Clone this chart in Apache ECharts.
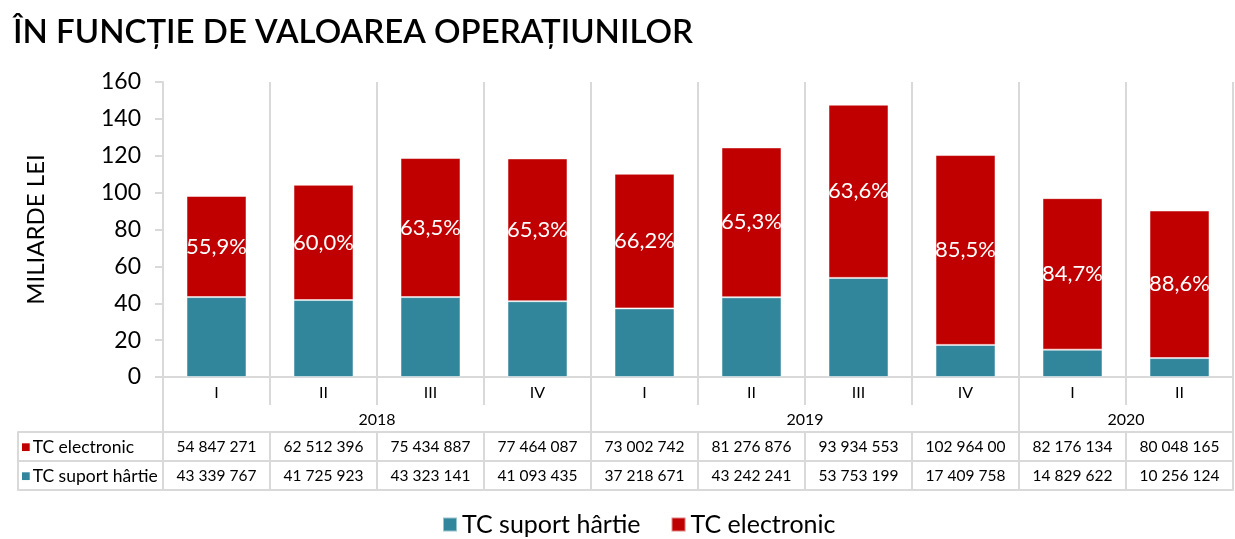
<!DOCTYPE html>
<html>
<head>
<meta charset="utf-8">
<script src="https://cdn.jsdelivr.net/npm/echarts@6/dist/echarts.min.js"></script>
<style>
  html, body { margin: 0; padding: 0; background: #fff; }
  #main { width: 1235px; height: 539px; }
</style>
</head>
<body>
<div id="main"></div>
<script>
// categorii
var quarters = ['I', 'II', 'III', 'IV', 'I', 'II', 'III', 'IV', 'I', 'II'];
var years = ['2018', '2019', '2020'];
var yearSpans = [4, 4, 2];

// valori, mii lei
var electronic = [54847271, 62512396, 75434887, 77464087, 73002742, 81276876, 93934553, 102964000, 82176134, 80048165];
var paper = [43339767, 41725923, 43323141, 41093435, 37218671, 43242241, 53753199, 17409758, 14829622, 10256124];

// texte din tabel
var electronicText = ['54 847 271', '62 512 396', '75 434 887', '77 464 087', '73 002 742', '81 276 876', '93 934 553', '102 964 00', '82 176 134', '80 048 165'];
var paperText = ['43 339 767', '41 725 923', '43 323 141', '41 093 435', '37 218 671', '43 242 241', '53 753 199', '17 409 758', '14 829 622', '10 256 124'];

var yTicks = [0, 20, 40, 60, 80, 100, 120, 140, 160];

var RED = '#c00000';
var TEAL = '#31869b';
var GRID = '#d9d9d9';
var FONT = 'Lato';

var dom = document.getElementById('main');
var myChart = echarts.init(dom);

// miliarde lei
var electronicBn = electronic.map(function (v) { return v / 1e6; });
var paperBn = paper.map(function (v) { return v / 1e6; });

// pozitiile anilor pe axa 0..10
var yearBounds = [0];
var yearCenters = [];
yearSpans.forEach(function (s) {
    var start = yearBounds[yearBounds.length - 1];
    yearCenters.push(start + s / 2);
    yearBounds.push(start + s);
});

var lineStyle = { color: GRID, width: 2 };
var rowLine = { show: true, onZero: false, lineStyle: lineStyle };
var noLine = { show: false, onZero: false };
var rowTick = { show: true, interval: 0, length: 29, lineStyle: lineStyle };

// un grid pentru fiecare rand din tabel (maxim o axa jos pe grid)
var mainRect = { left: 163, right: 2, top: 82, bottom: 162, outerBoundsMode: 'none' };
var sideRect = { left: 18, width: 145, top: 82, bottom: 162, outerBoundsMode: 'none' };
var grids = [mainRect, mainRect, mainRect, mainRect, mainRect, sideRect, sideRect, sideRect].map(function (r) {
    return Object.assign({}, r);
});

var hiddenY = [];
for (var g = 1; g < grids.length; g++) {
    hiddenY.push({ type: 'value', gridIndex: g, show: false, min: 0, max: 1 });
}

function sideLabel(color, text) {
    return {
        customValues: [0],
        align: 'left',
        margin: 6,
        formatter: function () { return '{r|■}{t|' + text + '}'; },
        rich: {
            r: { color: color, fontSize: 16, padding: [0, 2, 0, 3] },
            t: { color: '#000', fontSize: 17.5, fontFamily: FONT }
        }
    };
}

option = {
    textStyle: { fontFamily: FONT },
    title: {
        text: 'ÎN FUNCȚIE DE VALOAREA OPERAȚIUNILOR',
        left: 8,
        top: 11,
        textStyle: { fontFamily: FONT, fontSize: 33, fontWeight: 600, color: '#000' }
    },
    legend: {
        top: 507,
        left: 437,
        icon: 'rect',
        itemWidth: 14,
        itemHeight: 14,
        itemGap: 30,
        data: ['TC suport hârtie', 'TC electronic'],
        textStyle: { fontFamily: FONT, fontSize: 25, color: '#000' }
    },
    grid: grids,
    xAxis: [
        {   // trimestre
            type: 'category',
            gridIndex: 0,
            position: 'bottom',
            data: quarters,
            axisLine: rowLine,
            axisTick: { show: true, interval: 0, length: 28, lineStyle: lineStyle },
            axisLabel: { interval: 0, margin: 8, fontSize: 16, color: '#000', fontFamily: FONT },
            splitLine: { show: true, interval: 0, lineStyle: lineStyle }
        },
        {   // ani
            type: 'value',
            gridIndex: 1,
            position: 'bottom',
            min: 0,
            max: 10,
            offset: 28,
            axisLine: noLine,
            axisTick: { show: true, customValues: yearBounds, length: 27, lineStyle: lineStyle },
            axisLabel: {
                customValues: yearCenters,
                margin: 7,
                fontSize: 16,
                color: '#000',
                fontFamily: FONT,
                formatter: function (v) { return years[yearCenters.indexOf(v)] || ''; }
            },
            splitLine: { show: false }
        },
        {   // rand TC electronic
            type: 'category',
            gridIndex: 2,
            position: 'bottom',
            data: electronicText,
            offset: 55,
            axisLine: rowLine,
            axisTick: rowTick,
            axisLabel: { interval: 0, margin: 7, fontSize: 15.5, color: '#000', fontFamily: FONT }
        },
        {   // rand TC suport hartie
            type: 'category',
            gridIndex: 3,
            position: 'bottom',
            data: paperText,
            offset: 84,
            axisLine: rowLine,
            axisTick: rowTick,
            axisLabel: { interval: 0, margin: 7, fontSize: 15.5, color: '#000', fontFamily: FONT }
        },
        {   // linia de jos a tabelului
            type: 'category',
            gridIndex: 4,
            position: 'bottom',
            data: quarters,
            offset: 113,
            axisLine: rowLine,
            axisTick: { show: false },
            axisLabel: { show: false }
        },
        {   // coloana stanga: TC electronic
            type: 'value',
            gridIndex: 5,
            position: 'bottom',
            min: 0,
            max: 1,
            offset: 55,
            axisLine: rowLine,
            axisTick: { show: true, customValues: [0, 1], length: 29, lineStyle: lineStyle },
            axisLabel: sideLabel(RED, 'TC electronic'),
            splitLine: { show: false }
        },
        {   // coloana stanga: TC suport hartie
            type: 'value',
            gridIndex: 6,
            position: 'bottom',
            min: 0,
            max: 1,
            offset: 84,
            axisLine: rowLine,
            axisTick: { show: true, customValues: [0, 1], length: 29, lineStyle: lineStyle },
            axisLabel: sideLabel(TEAL, 'TC suport hârtie'),
            splitLine: { show: false }
        },
        {
            type: 'value',
            gridIndex: 7,
            position: 'bottom',
            min: 0,
            max: 1,
            offset: 113,
            axisLine: rowLine,
            axisTick: { show: false },
            axisLabel: { show: false },
            splitLine: { show: false }
        }
    ],
    yAxis: [
        {
            type: 'value',
            gridIndex: 0,
            min: yTicks[0],
            max: yTicks[yTicks.length - 1],
            interval: 20,
            name: 'MILIARDE LEI',
            nameLocation: 'middle',
            nameGap: 115,
            nameRotate: 90,
            nameTextStyle: { fontSize: 24, color: '#000', fontFamily: FONT },
            axisLine: { show: true, onZero: false, lineStyle: lineStyle },
            axisTick: { show: true, length: 8, lineStyle: lineStyle },
            axisLabel: { fontSize: 23, color: '#000', margin: 22, fontFamily: FONT },
            splitLine: { show: false }
        }
    ].concat(hiddenY),
    series: [
        {
            name: 'TC suport hârtie',
            type: 'bar',
            stack: 'total',
            xAxisIndex: 0,
            yAxisIndex: 0,
            barWidth: 60,
            itemStyle: { color: TEAL, borderColor: 'rgba(255,255,255,0.5)', borderWidth: 1 },
            data: paperBn
        },
        {
            name: 'TC electronic',
            type: 'bar',
            stack: 'total',
            xAxisIndex: 0,
            yAxisIndex: 0,
            barWidth: 60,
            itemStyle: { color: RED, borderColor: 'rgba(255,255,255,0.5)', borderWidth: 1 },
            label: {
                show: true,
                position: 'inside',
                color: '#fff',
                fontSize: 22,
                fontFamily: FONT,
                formatter: function (p) {
                    var i = p.dataIndex;
                    var share = electronic[i] / (electronic[i] + paper[i]) * 100;
                    return share.toFixed(1).replace('.', ',') + '%';
                }
            },
            data: electronicBn
        }
    ]
};

if (option && typeof option === 'object') {
    myChart.setOption(option, true);
}
</script>
</body>
</html>
